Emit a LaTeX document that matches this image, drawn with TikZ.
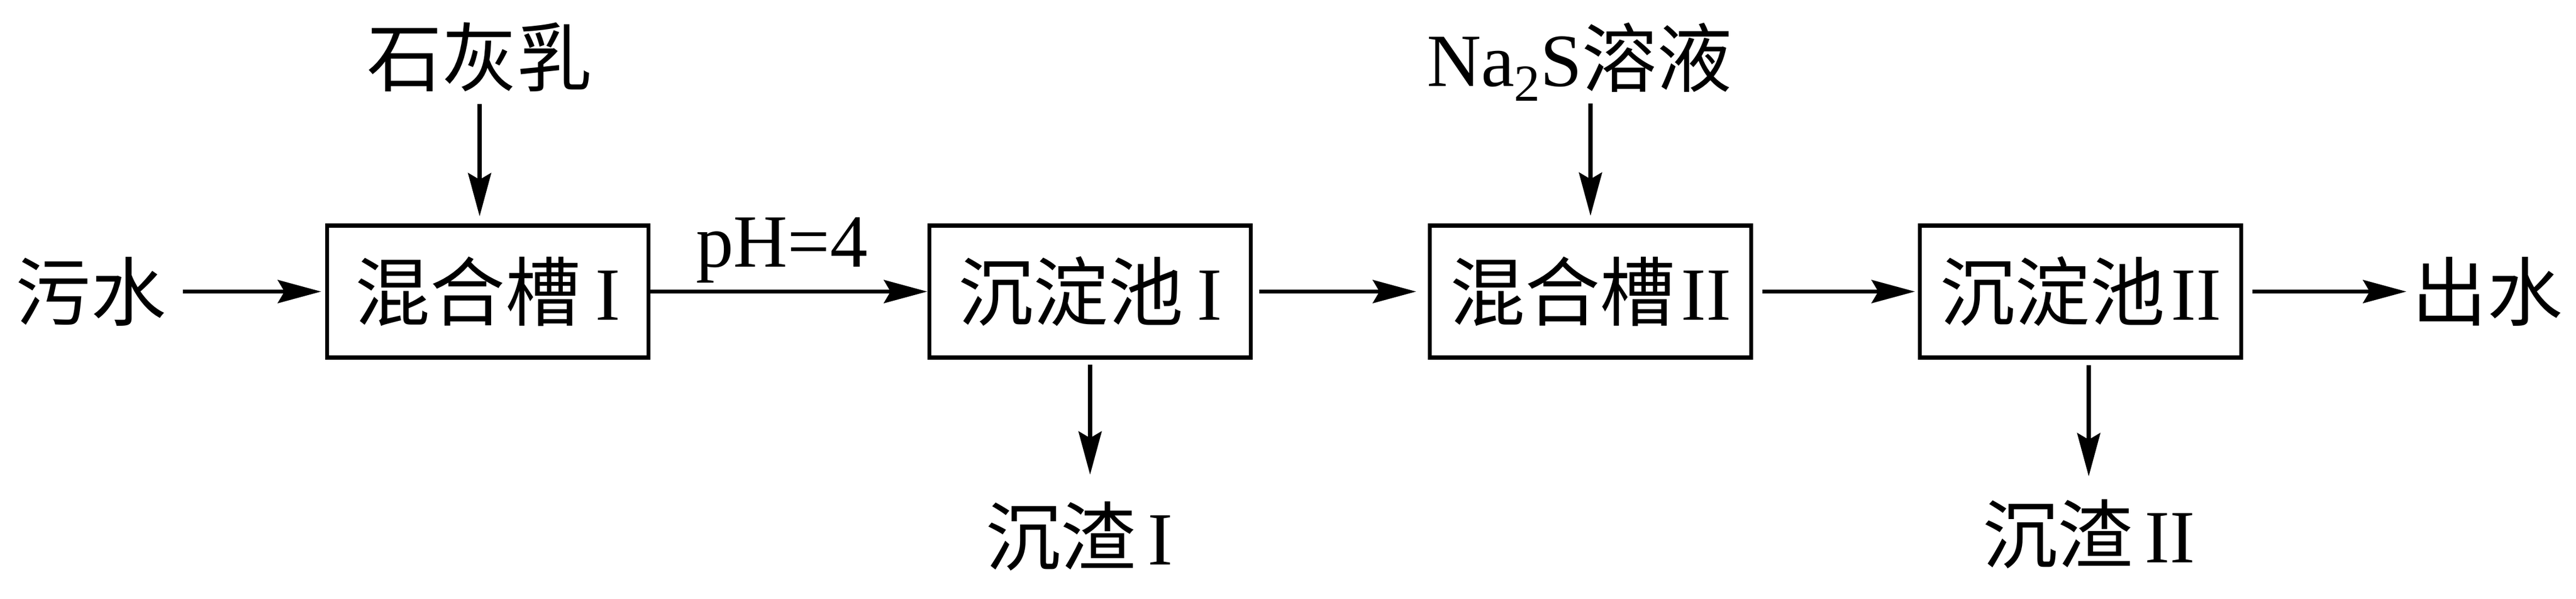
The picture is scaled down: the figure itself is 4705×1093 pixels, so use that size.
\documentclass[tikz,border=0pt]{standalone}
\usepackage{fontspec}
\setmainfont{Liberation Serif}
\newfontfamily\cjk{Noto Sans CJK SC}
\usetikzlibrary{arrows.meta}
\newcommand\fsz{\fontsize{39}{47}\selectfont}
\newcommand\zh[1]{{\cjk #1}}
\begin{document}
\begin{tikzpicture}[x=0.01cm,y=-0.01cm,
  box/.style={draw, line width=0.075cm, minimum width=5.87cm, minimum height=2.41cm, inner sep=0pt, font=\fsz},
  txt/.style={inner sep=0pt, font=\fsz},
  arr/.style={line width=0.075cm, -{Stealth[length=0.79cm,width=0.42cm,inset=0.12cm]}}]
\useasboundingbox (0,0) rectangle (4705,1093);
% nodes
\node[txt] (w) at (166,532.5) {\zh{污水}};
\node[box] (b1) at (891,532.5) {\zh{混合槽}\hspace{0.2em}I};
\node[txt] (lime) at (876,104) {\zh{石灰乳}};
\node[txt, anchor=base] (ph) at (1428,487) {pH=4};
\node[box] (b2) at (1991,532.5) {\zh{沉淀池}\hspace{0.18em}I};
\node[txt] (s1) at (1971,979) {\zh{沉渣}\hspace{0.16em}I};
\node[box] (b3) at (2905,532.5) {\zh{混合槽}\hspace{0.08em}II};
\node[txt, anchor=base] (na) at (2885,157) {Na\raisebox{-0.2em}{\fontsize{27}{30}\selectfont 2}S\zh{溶液}};
\node[box] (b4) at (3800,532.5) {\zh{沉淀池}\hspace{0.08em}II};
\node[txt] (s2) at (3815,975) {\zh{沉渣}\hspace{0.16em}II};
\node[txt] (out) at (4543,532.5) {\zh{出水}};
% connectors
\draw[arr, shorten <=0.3cm, shorten >=0.07cm] (w) -- (b1);
\draw[arr] (b1) -- (b2);
\draw[arr, shorten <=0.12cm, shorten >=0.21cm] (b2) -- (b3);
\draw[arr, shorten <=0.17cm, shorten >=0.05cm] (b3) -- (b4);
\draw[arr, shorten <=0.17cm, shorten >=0.1cm] (b4) -- (out);
\draw[arr, shorten <=0.22cm, shorten >=0.13cm] (lime) -- (lime |- b1.north);
\draw[arr, shorten <=0.04cm, shorten >=0.14cm] (na.south -| b3.north) -- (b3.north);
\draw[arr, shorten <=0.09cm, shorten >=0.48cm] (b2.south) -- (b2.south |- s1.north);
\draw[arr, shorten <=0.1cm, shorten >=0.41cm] (s2.north |- b4.south) -- (s2.north);
\end{tikzpicture}
\end{document}
